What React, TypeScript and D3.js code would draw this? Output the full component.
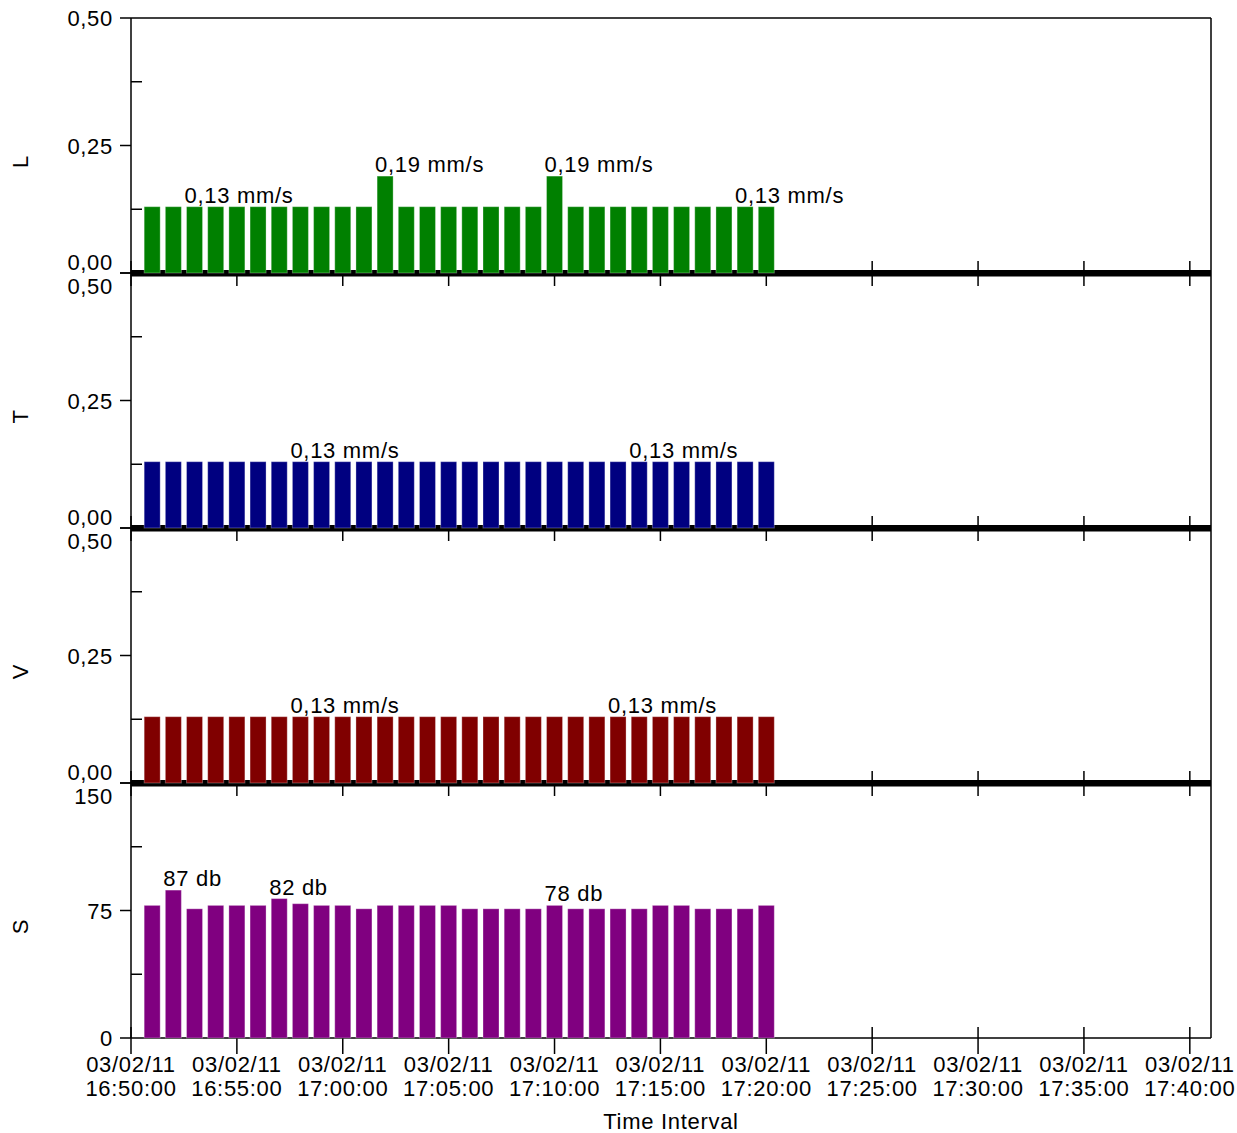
import React from "react";
import * as d3 from "d3";

// minute-by-minute readings, 16:51 .. 17:20
const minutes = d3.range(1, 31);
const seriesL = [0.13, 0.13, 0.13, 0.13, 0.13, 0.13, 0.13, 0.13, 0.13, 0.13, 0.13, 0.19, 0.13, 0.13, 0.13, 0.13, 0.13, 0.13, 0.13, 0.19, 0.13, 0.13, 0.13, 0.13, 0.13, 0.13, 0.13, 0.13, 0.13, 0.13];
const seriesT = minutes.map(() => 0.13);
const seriesV = minutes.map(() => 0.13);
const seriesS = [78, 87, 76, 78, 78, 78, 82, 79, 78, 78, 76, 78, 78, 78, 78, 76, 76, 76, 76, 78, 76, 76, 76, 76, 78, 78, 76, 76, 76, 78];

// which bars carry a value label
const labelsL = [2, 11, 19, 28];
const labelsT = [7, 23];
const labelsV = [7, 22];
const labelsS = [1, 6, 19];

const yTicksMm = [0, 0.25, 0.5];
const yMinorMm = [0.125, 0.375];
const yTicksS = [0, 75, 150];
const yMinorS = [37.5, 112.5];

const panels = [
  { name: "L", values: seriesL, labels: labelsL, color: "#008000", max: 0.5, ticks: yTicksMm, minor: yMinorMm, unit: "mm/s" },
  { name: "T", values: seriesT, labels: labelsT, color: "#000080", max: 0.5, ticks: yTicksMm, minor: yMinorMm, unit: "mm/s" },
  { name: "V", values: seriesV, labels: labelsV, color: "#800000", max: 0.5, ticks: yTicksMm, minor: yMinorMm, unit: "mm/s" },
  { name: "S", values: seriesS, labels: labelsS, color: "#800080", max: 150, ticks: yTicksS, minor: yMinorS, unit: "db" },
];

const W = 1237;
const H = 1133;
const left = 131;
const right = 1211;
const top0 = 18;
const panelH = 255;
const font = "'Liberation Sans', Arial, sans-serif";
const fs = 22;
const ls = 0.7;

const t0 = new Date(2011, 1, 3, 16, 50, 0);
const t1 = new Date(2011, 1, 3, 17, 41, 0);
const x = d3.scaleTime().domain([t0, t1]).range([left, right]);
const xTicks = d3.timeMinute.every(5)!.range(t0, d3.timeMinute.offset(t1, 1)).filter(d => d <= t1);
const barTime = (m: number) => d3.timeMinute.offset(t0, m);
const barW = 16;

const fmtDate = d3.timeFormat("%d/%m/%y");
const fmtTime = d3.timeFormat("%H:%M:%S");
const fmtMm = (v: number) => v.toFixed(2).replace(".", ",");

export default function App() {
  return (
    <svg width={W} height={H} style={{ position: "absolute", left: 0, top: 0, background: "#fff" }} fontFamily={font} fontSize={fs} letterSpacing={ls}>
      {panels.map((p, i) => {
        const top = top0 + panelH * i;
        const bottom = top + panelH;
        const y = d3.scaleLinear().domain([0, p.max]).range([bottom, top]);
        const last = i === panels.length - 1;
        const fmt = p.unit === "db" ? (v: number) => String(v) : fmtMm;
        return (
          <g key={p.name}>
            {i === 0 && <line x1={left} x2={right} y1={top} y2={top} stroke="#000" strokeWidth={1.5} />}
            {!last && <rect x={left} y={bottom - 3} width={right - left} height={6.5} fill="#000" />}
            {last && <line x1={left} x2={right} y1={bottom} y2={bottom} stroke="#000" strokeWidth={1.5} />}
            {/* x ticks on panel base, under the bars */}
            {xTicks.map(d => (
              <line
                key={+d}
                x1={x(d)}
                x2={x(d)}
                y1={bottom - (last ? 11 : 12)}
                y2={bottom + (last ? 16 : 13)}
                stroke="#000"
                strokeWidth={1.5}
              />
            ))}
            {p.values.map((v, k) => (
              <rect
                key={k}
                x={x(barTime(minutes[k])) - barW / 2}
                y={y(v)}
                width={barW}
                height={bottom - y(v)}
                fill={p.color}
                stroke="#fff"
                strokeOpacity={0.3}
                strokeWidth={1}
              />
            ))}
            {p.labels.map(k => (
              <text key={k} x={x(barTime(minutes[k])) - barW / 2 - 2} y={y(p.values[k]) - 4} fill="#000">
                {p.unit === "db" ? `${p.values[k]} db` : `${fmtMm(p.values[k])} mm/s`}
              </text>
            ))}
            {/* y ticks */}
            {p.ticks.map(t => {
              const ty = y(t);
              let label = ty + 8;
              if (t === 0 && !last) label = bottom - 3;
              if (t === p.max && i > 0) label = top + 21;
              return (
                <g key={t}>
                  <line x1={120} x2={left} y1={ty} y2={ty} stroke="#000" strokeWidth={1.5} />
                  <text x={113} y={label} textAnchor="end" fill="#000">{fmt(t)}</text>
                </g>
              );
            })}
            {p.minor.map(t => (
              <line key={t} x1={left} x2={left + 11} y1={y(t)} y2={y(t)} stroke="#000" strokeWidth={1.5} />
            ))}
            <text transform={`translate(28,${(top + bottom) / 2 + 16}) rotate(-90)`} textAnchor="middle" fill="#000">
              {p.name}
            </text>
          </g>
        );
      })}
      <line x1={left} x2={left} y1={top0} y2={top0 + panelH * 4} stroke="#000" strokeWidth={1.5} />
      <line x1={right} x2={right} y1={top0} y2={top0 + panelH * 4} stroke="#000" strokeWidth={1.5} />
      {xTicks.map(d => (
        <text key={+d} x={x(d)} textAnchor="middle" fill="#000">
          <tspan x={x(d)} y={1072}>{fmtDate(d)}</tspan>
          <tspan x={x(d)} y={1096}>{fmtTime(d)}</tspan>
        </text>
      ))}
      <text x={(left + right) / 2} y={1129} textAnchor="middle" fill="#000">Time Interval</text>
    </svg>
  );
}
